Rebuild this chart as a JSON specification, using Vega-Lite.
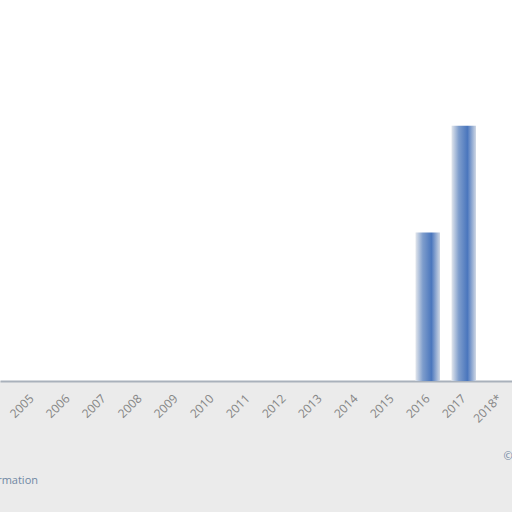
{
  "$schema": "https://vega.github.io/schema/vega-lite/v6.json",
  "width": 512,
  "height": 381,
  "autosize": "none",
  "padding": {"left": 0, "top": 0, "right": 0, "bottom": 131},
  "background": "#ebebeb",
  "view": {"fill": "white", "stroke": null},
  "title": {
    "text": "Additional Information",
    "orient": "bottom",
    "anchor": "start",
    "offset": 14,
    "dx": -78,
    "fontSize": 11,
    "fontWeight": "normal",
    "font": "Open Sans",
    "color": "#7088a3"
  },
  "data": {
    "values": [
      {"year": "2005", "value": 0},
      {"year": "2006", "value": 0},
      {"year": "2007", "value": 0},
      {"year": "2008", "value": 0},
      {"year": "2009", "value": 0},
      {"year": "2010", "value": 0},
      {"year": "2011", "value": 0},
      {"year": "2012", "value": 0},
      {"year": "2013", "value": 0},
      {"year": "2014", "value": 0},
      {"year": "2015", "value": 0},
      {"year": "2016", "value": 117},
      {"year": "2017", "value": 201},
      {"year": "2018*", "value": 0}
    ]
  },
  "mark": {
    "type": "bar",
    "color": {
      "gradient": "linear",
      "x1": 0, "y1": 0, "x2": 1, "y2": 0,
      "stops": [
        {"offset": 0, "color": "#e2e6ec"},
        {"offset": 0.3, "color": "#7e9dcc"},
        {"offset": 0.65, "color": "#4a76bd"},
        {"offset": 1, "color": "#cfd7e4"}
      ]
    }
  },
  "encoding": {
    "x": {
      "field": "year",
      "type": "ordinal",
      "sort": null,
      "scale": {"paddingInner": 0.32, "paddingOuter": 0.27, "align": 1},
      "axis": {
        "title": "© Statista 2018",
        "titleX": 503,
        "titleY": 75,
        "titleAlign": "left",
        "titleBaseline": "middle",
        "titleFont": "Open Sans",
        "titleFontSize": 11,
        "titleFontWeight": "normal",
        "titleColor": "#7088a3",
        "labelAngle": -45,
        "labelAlign": "right",
        "labelBaseline": "middle",
        "labelPadding": 15,
        "labelFont": "Open Sans",
        "labelFontSize": 12,
        "labelColor": "#858585",
        "ticks": false,
        "domainColor": "#a9b1bb",
        "domainWidth": 2
      }
    },
    "y": {
      "field": "value",
      "type": "quantitative",
      "scale": {"domain": [0, 300]},
      "axis": null
    }
  }
}
